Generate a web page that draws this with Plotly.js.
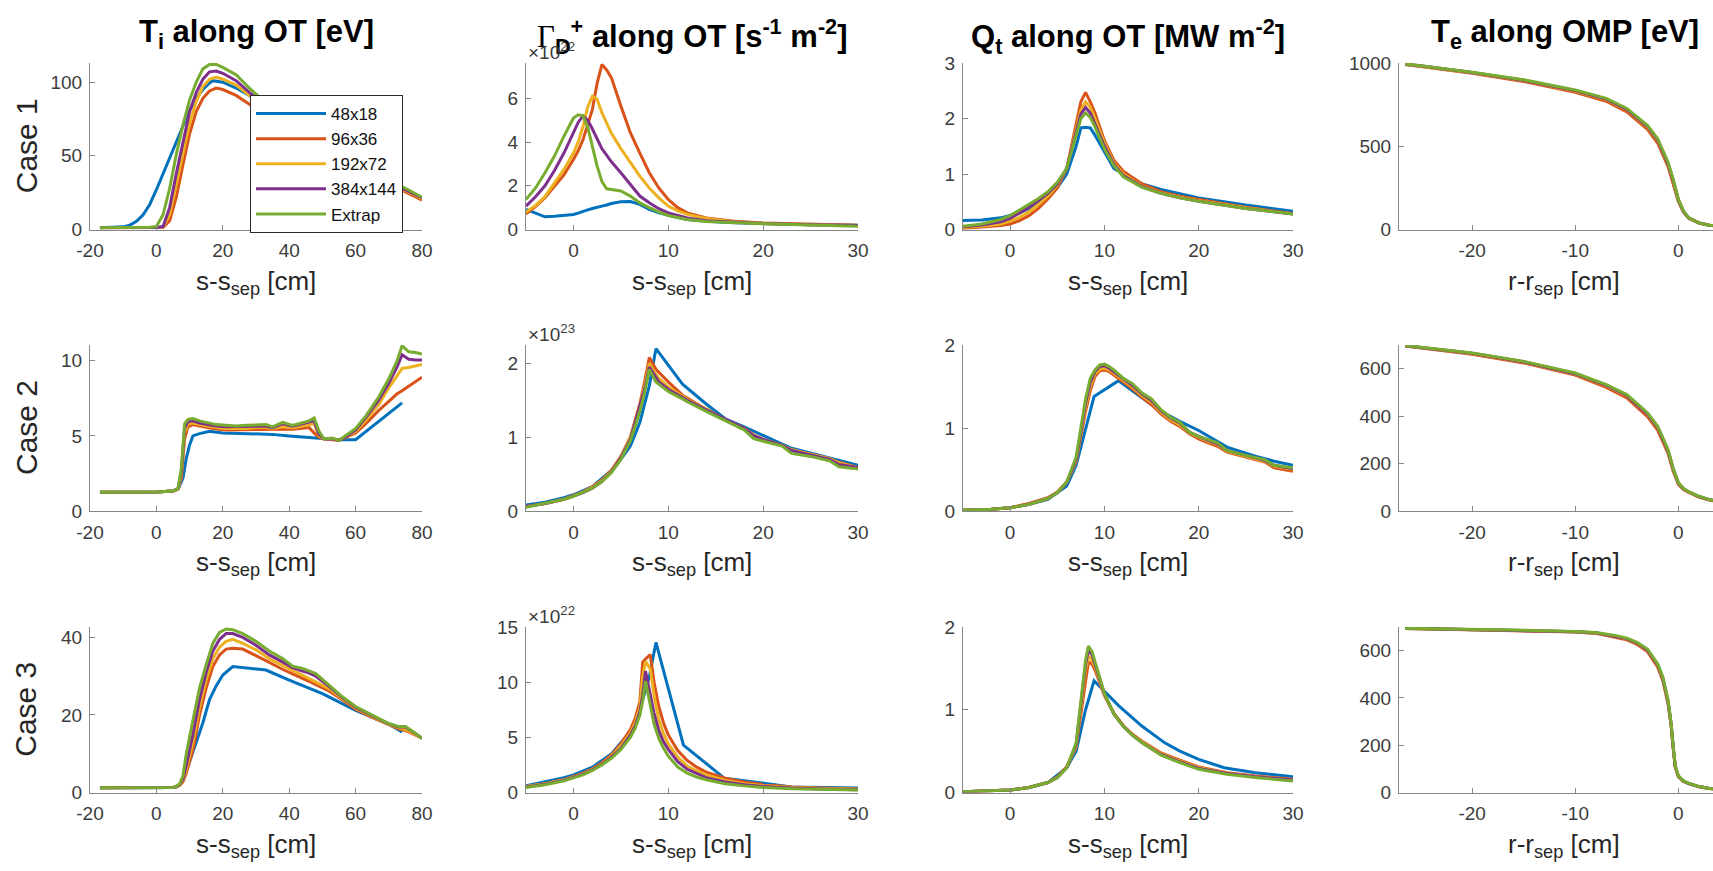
<!DOCTYPE html>
<html><head><meta charset="utf-8">
<script src="https://cdn.plot.ly/plotly-3.0.1.min.js"></script>
<style>html,body{margin:0;padding:0;background:#fff;overflow:hidden}#chart{width:1713px;height:871px}</style>
</head><body><div id="chart"></div>
<script>
// ---------------- series ----------------
const SERIES_NAMES = ['48x18', '96x36', '192x72', '384x144', 'Extrap'];
const SERIES_COLORS = ['#0072BD', '#D95319', '#EDB120', '#7E2F8E', '#77AC30'];

// ---------------- Case 1 : Ti along OT [eV] ----------------
const ti1_s_48 = [-17, -12, -10, -8, -6, -4, -2, 0, 2, 4, 6, 8, 10, 12, 14, 16, 17, 20, 24, 28, 32, 36, 40, 45, 50, 55, 60, 65, 70, 74];
const ti1_48 = [1.2, 1.3, 1.8, 3, 5.5, 10, 17, 27, 38, 49, 60, 71, 81, 89, 95, 99.5, 101, 100, 96, 91, 85, 78, 71, 63, 56, 49, 43, 37, 31, 27];
const ti1_s = [-17, -10, -5, -2, 0, 2, 4, 6, 8, 10, 12, 14, 16, 18, 20, 24, 28, 32, 36, 40, 45, 50, 55, 60, 65, 70, 75, 80];
const ti1_96 = [1.2, 1.2, 1.2, 1.2, 1.2, 1.3, 6, 22, 44, 65, 80, 89, 94, 96, 95, 91, 85, 80, 74, 68, 61, 55, 49, 43, 37, 31, 25.5, 20];
const ti1_192 = [1.2, 1.2, 1.2, 1.2, 1.2, 1.5, 10, 30, 52, 72, 87, 97, 102, 103.5, 102, 98, 91, 84, 77, 70, 63, 56, 50, 44, 38, 32, 26.5, 21];
const ti1_384 = [1.2, 1.2, 1.2, 1.2, 1.3, 2, 15, 38, 60, 80, 93, 102, 107, 107.5, 106, 101, 93, 86, 79, 72, 64, 57, 50, 44, 38, 32, 27, 21.5];
const ti1_ext = [1.2, 1.2, 1.3, 1.5, 2, 10, 28, 51, 71, 88, 100, 109, 112, 112, 110, 105, 96, 88, 80, 73, 65, 58, 51, 45, 39, 33, 28, 22];

// ---------------- Case 2 : Ti ----------------
const ti2_s_48 = [-17, -10, 0, 5, 6.5, 8, 9, 10, 11, 13, 16, 20, 25, 30, 35, 40, 45, 50, 55, 60, 74];
const ti2_48 = [1.25, 1.25, 1.27, 1.33, 1.45, 2.2, 3.5, 4.4, 5.0, 5.15, 5.3, 5.2, 5.15, 5.15, 5.1, 5.0, 4.9, 4.8, 4.75, 4.75, 7.2];
const ti2_s = [-17, -10, 0, 5, 6.5, 7.5, 8.5, 9.5, 11, 13, 15, 18, 21, 24, 27, 30, 33, 35, 38, 41, 44, 46, 47.5, 49, 50.5, 53, 55, 57, 60, 63, 67, 70, 72.5, 74, 76, 78, 80];
const ti2_96 = [1.25, 1.25, 1.27, 1.33, 1.45, 2.2, 4.8, 5.6, 5.75, 5.65, 5.55, 5.45, 5.4, 5.4, 5.4, 5.4, 5.45, 5.4, 5.45, 5.45, 5.5, 5.55, 5.2, 4.9, 4.8, 4.75, 4.7, 4.9, 5.2, 5.8, 6.7, 7.3, 7.8, 8.0, 8.3, 8.6, 8.9];
const ti2_192 = [1.25, 1.25, 1.27, 1.33, 1.45, 2.4, 5.2, 5.8, 5.85, 5.75, 5.65, 5.55, 5.5, 5.5, 5.5, 5.55, 5.55, 5.5, 5.6, 5.55, 5.65, 5.75, 5.8, 5.0, 4.8, 4.8, 4.7, 4.95, 5.3, 6.0, 7.1, 8.2, 9.0, 9.5, 9.55, 9.65, 9.75];
const ti2_384 = [1.25, 1.25, 1.27, 1.33, 1.5, 2.6, 5.5, 5.95, 6.0, 5.85, 5.75, 5.65, 5.6, 5.6, 5.6, 5.65, 5.65, 5.55, 5.8, 5.65, 5.8, 5.9, 6.0, 5.1, 4.8, 4.8, 4.7, 4.95, 5.4, 6.2, 7.4, 8.5, 9.6, 10.4, 10.1, 10.05, 10.05];
const ti2_ext = [1.25, 1.25, 1.27, 1.33, 1.5, 2.8, 5.8, 6.1, 6.15, 6.0, 5.9, 5.75, 5.7, 5.65, 5.7, 5.7, 5.75, 5.6, 5.9, 5.7, 5.9, 6.0, 6.2, 5.3, 4.8, 4.85, 4.7, 5.0, 5.5, 6.3, 7.6, 8.8, 10.0, 11.0, 10.6, 10.55, 10.45];

// ---------------- Case 3 : Ti ----------------
const ti3_s_48 = [-17, -10, 0, 5, 6, 8, 10, 12, 14, 16, 18, 20, 23, 33, 40, 50, 60, 70, 74];
const ti3_48 = [1.2, 1.2, 1.25, 1.3, 1.4, 3, 8, 13, 18, 24, 27.5, 30.3, 32.5, 31.6, 29, 25.5, 21.2, 17.6, 15.6];
const ti3_s = [-17, -10, 0, 5, 6, 7, 8, 9, 11, 13, 15, 17, 19, 21, 23, 26, 30, 34, 38, 41, 44, 46, 48, 52, 56, 60, 65, 70, 73, 75, 78, 80];
const ti3_96 = [1.2, 1.2, 1.25, 1.3, 1.5, 1.8, 2.8, 5, 11, 20, 27, 32.5, 35.5, 37, 37.2, 37, 35.3, 33.5, 31.8, 30.6, 29.5, 28.7, 27.8, 26.2, 23.9, 21.5, 19.4, 17.4, 16.4, 16.0, 14.8, 14];
const ti3_192 = [1.2, 1.2, 1.25, 1.3, 1.5, 1.9, 3.2, 6, 13, 22, 29, 34.5, 37.5, 39, 39.5, 38.5, 36.8, 34.5, 32.8, 31.5, 30.2, 29.5, 28.6, 26.8, 24.2, 21.8, 19.6, 17.6, 16.7, 16.3, 15, 14];
const ti3_384 = [1.2, 1.2, 1.25, 1.3, 1.5, 2.0, 3.5, 7, 15, 24, 31, 36.5, 39.5, 41, 41, 40, 38, 35.5, 33.7, 32.2, 31.3, 30.8, 30, 27.4, 24.5, 22, 19.8, 17.7, 16.9, 16.9, 15.2, 14];
const ti3_ext = [1.2, 1.2, 1.25, 1.3, 1.6, 2.2, 4.3, 10, 18.6, 27, 33, 38.5, 41.3, 42.2, 42, 41, 39, 36.5, 34.6, 32.6, 32, 31.4, 30.7, 27.7, 24.7, 22.2, 19.9, 17.8, 17.0, 17.0, 15.3, 14.0];

// ---------------- Case 1 : Gamma_D+ along OT [x1e22 s^-1 m^-2] ----------------
const g1_s = [-5, -4, -3, -2, -1, 0, 0.5, 1, 1.5, 2, 2.5, 3, 3.5, 4, 5, 6, 7, 8, 9, 10, 11, 12, 14, 17, 20, 25, 30];
const g1_48 = [0.92, 0.76, 0.58, 0.61, 0.64, 0.69, 0.75, 0.84, 0.9, 0.96, 1.0, 1.07, 1.12, 1.19, 1.27, 1.28, 1.15, 0.92, 0.76, 0.64, 0.55, 0.46, 0.38, 0.31, 0.27, 0.22, 0.2];
const g1_96 = [0.72, 1.05, 1.45, 1.95, 2.5, 3.2, 3.6, 4.1, 4.8, 5.5, 6.7, 7.55, 7.3, 6.95, 5.65, 4.43, 3.5, 2.6, 1.9, 1.37, 1.0, 0.76, 0.53, 0.38, 0.3, 0.25, 0.2];
const g1_192 = [0.8, 1.1, 1.5, 2.1, 2.75, 3.5, 4.0, 4.7, 5.6, 6.1, 5.95, 5.35, 4.85, 4.4, 3.7, 3.05, 2.44, 1.9, 1.45, 1.07, 0.85, 0.69, 0.5, 0.36, 0.28, 0.22, 0.18];
const g1_384 = [1.07, 1.5, 2.0, 2.7, 3.5, 4.43, 4.9, 5.2, 5.0, 4.6, 4.15, 3.7, 3.4, 3.1, 2.6, 2.06, 1.53, 1.22, 0.95, 0.76, 0.63, 0.53, 0.4, 0.32, 0.27, 0.22, 0.18];
const g1_ext = [1.37, 1.9, 2.6, 3.36, 4.27, 5.1, 5.25, 5.2, 4.7, 3.8, 2.9, 2.2, 1.86, 1.83, 1.76, 1.53, 1.22, 1.0, 0.8, 0.64, 0.54, 0.46, 0.37, 0.3, 0.26, 0.21, 0.15];

// ---------------- Case 2 : Gamma_D+ [x1e23] ----------------
const g2_s_48 = [-5, -3, -1, 0, 2, 4, 5, 6, 7, 8, 8.7, 10, 11.5, 14, 16, 18, 20, 23, 27, 30];
const g2_48 = [0.08, 0.12, 0.18, 0.22, 0.33, 0.55, 0.7, 0.88, 1.2, 1.7, 2.2, 1.98, 1.72, 1.45, 1.25, 1.14, 1.02, 0.85, 0.72, 0.62];
const g2_s = [-5, -3, -1, 0, 1, 2, 3, 4, 5, 6, 7, 7.5, 8, 8.7, 9, 10, 11.5, 12, 14, 16, 18, 19, 20, 22, 23, 25, 27, 28, 30];
const g2_96 = [0.06, 0.1, 0.16, 0.21, 0.26, 0.33, 0.42, 0.55, 0.74, 1.0, 1.45, 1.75, 2.08, 1.92, 1.88, 1.75, 1.57, 1.53, 1.38, 1.24, 1.12, 1.03, 0.97, 0.89, 0.83, 0.77, 0.71, 0.66, 0.59];
const g2_192 = [0.06, 0.1, 0.16, 0.2, 0.25, 0.32, 0.41, 0.54, 0.73, 0.99, 1.42, 1.7, 2.0, 1.85, 1.8, 1.68, 1.55, 1.51, 1.38, 1.24, 1.12, 1.03, 0.97, 0.89, 0.83, 0.77, 0.71, 0.65, 0.59];
const g2_384 = [0.06, 0.1, 0.16, 0.2, 0.25, 0.31, 0.4, 0.53, 0.72, 0.97, 1.4, 1.65, 1.95, 1.8, 1.75, 1.65, 1.54, 1.5, 1.37, 1.24, 1.12, 1.02, 0.97, 0.89, 0.82, 0.76, 0.7, 0.63, 0.59];
const g2_ext = [0.05, 0.1, 0.16, 0.2, 0.25, 0.31, 0.4, 0.52, 0.7, 0.95, 1.35, 1.6, 1.92, 1.75, 1.72, 1.62, 1.52, 1.48, 1.35, 1.22, 1.1, 0.98, 0.95, 0.88, 0.78, 0.74, 0.68, 0.6, 0.57];

// ---------------- Case 3 : Gamma_D+ [x1e22] ----------------
const g3_s_48 = [-5, -3, -1, 0, 2, 4, 6, 7, 8, 8.7, 11.6, 15.9, 20, 23, 30];
const g3_48 = [0.6, 0.95, 1.35, 1.6, 2.3, 3.5, 5.5, 7.5, 10.5, 13.6, 4.3, 1.3, 0.85, 0.5, 0.4];
const g3_s = [-5, -3, -1, 0, 1, 2, 3, 4, 5, 6, 6.5, 7, 7.3, 7.6, 8.1, 8.5, 9, 9.5, 10, 11, 12, 13, 14, 16, 18, 20, 23, 26, 30];
const g3_96 = [0.55, 0.8, 1.15, 1.45, 1.75, 2.15, 2.7, 3.4, 4.4, 5.7, 6.7, 8.2, 11.8, 12.1, 12.5, 10.0, 7.8, 6.3, 5.2, 3.8, 2.9, 2.3, 1.85, 1.3, 0.95, 0.72, 0.5, 0.4, 0.32];
const g3_192 = [0.55, 0.8, 1.15, 1.4, 1.7, 2.1, 2.6, 3.3, 4.2, 5.4, 6.3, 7.7, 10.5, 11.9, 11.2, 8.8, 6.6, 5.3, 4.4, 3.2, 2.4, 1.95, 1.6, 1.1, 0.8, 0.62, 0.45, 0.36, 0.29];
const g3_384 = [0.5, 0.75, 1.1, 1.35, 1.65, 2.05, 2.55, 3.2, 4.0, 5.2, 6.0, 7.3, 8.8, 11.0, 9.0, 7.2, 5.6, 4.6, 3.9, 2.8, 2.1, 1.7, 1.35, 0.95, 0.7, 0.55, 0.4, 0.32, 0.26];
const g3_ext = [0.45, 0.7, 1.05, 1.3, 1.6, 2.0, 2.5, 3.1, 3.9, 5.0, 5.8, 7.0, 8.3, 10.1, 8.0, 6.2, 4.9, 4.0, 3.3, 2.3, 1.75, 1.4, 1.15, 0.8, 0.6, 0.46, 0.35, 0.28, 0.22];

// ---------------- Case 1 : Qt along OT [MW m^-2] ----------------
const q1_s = [-5, -3, -1, 0, 1, 2, 3, 4, 5, 6, 7, 7.5, 8, 8.5, 9, 10, 11, 12, 14, 16, 18, 20, 25, 30];
const q1_48 = [0.16, 0.17, 0.21, 0.25, 0.3, 0.38, 0.47, 0.58, 0.75, 1.0, 1.5, 1.83, 1.84, 1.83, 1.7, 1.4, 1.1, 1.0, 0.82, 0.72, 0.64, 0.57, 0.44, 0.33];
const q1_96 = [0.02, 0.04, 0.07, 0.1, 0.16, 0.25, 0.38, 0.55, 0.75, 1.1, 1.9, 2.3, 2.47, 2.3, 2.1, 1.6, 1.25, 1.05, 0.82, 0.68, 0.6, 0.54, 0.4, 0.29];
const q1_192 = [0.04, 0.06, 0.1, 0.15, 0.22, 0.32, 0.45, 0.6, 0.8, 1.1, 1.8, 2.15, 2.3, 2.2, 2.0, 1.55, 1.2, 1.0, 0.78, 0.66, 0.58, 0.52, 0.39, 0.28];
const q1_384 = [0.05, 0.08, 0.14, 0.2, 0.3, 0.4, 0.52, 0.65, 0.82, 1.1, 1.75, 2.08, 2.2, 2.1, 1.9, 1.5, 1.17, 0.97, 0.77, 0.65, 0.57, 0.51, 0.38, 0.28];
const q1_ext = [0.06, 0.1, 0.18, 0.25, 0.35, 0.45, 0.56, 0.68, 0.85, 1.1, 1.7, 2.0, 2.1, 2.02, 1.85, 1.45, 1.15, 0.95, 0.76, 0.65, 0.57, 0.51, 0.38, 0.28];

// ---------------- Case 2 : Qt ----------------
const q2_s_48 = [-5, -2, 0, 2, 4, 6, 7, 8, 8.9, 11.5, 14, 16, 18, 20, 23, 26, 28, 30];
const q2_48 = [0.01, 0.02, 0.04, 0.08, 0.14, 0.3, 0.55, 1.0, 1.38, 1.57, 1.36, 1.2, 1.08, 0.97, 0.77, 0.66, 0.6, 0.55];
const q2_s = [-5, -2, 0, 2, 4, 5, 6, 7, 7.5, 8, 8.5, 9, 9.5, 10, 10.5, 11, 12, 13, 14, 15, 16, 17, 18, 19, 20, 21, 22, 23, 25, 27, 28, 30];
const q2_96 = [0.01, 0.02, 0.04, 0.09, 0.16, 0.23, 0.35, 0.6, 0.9, 1.2, 1.45, 1.62, 1.69, 1.7, 1.68, 1.64, 1.55, 1.47, 1.37, 1.28, 1.17, 1.08, 1.02, 0.93, 0.87, 0.82, 0.78, 0.71, 0.65, 0.59, 0.52, 0.48];
const q2_192 = [0.01, 0.02, 0.04, 0.08, 0.15, 0.22, 0.34, 0.6, 0.92, 1.25, 1.5, 1.65, 1.71, 1.72, 1.7, 1.66, 1.57, 1.49, 1.39, 1.31, 1.19, 1.1, 1.04, 0.94, 0.89, 0.84, 0.8, 0.72, 0.66, 0.6, 0.54, 0.5];
const q2_384 = [0.01, 0.02, 0.04, 0.08, 0.15, 0.22, 0.34, 0.62, 0.95, 1.3, 1.55, 1.68, 1.74, 1.75, 1.72, 1.68, 1.59, 1.51, 1.41, 1.33, 1.21, 1.12, 1.06, 0.95, 0.9, 0.85, 0.81, 0.73, 0.67, 0.61, 0.55, 0.51];
const q2_ext = [0.01, 0.02, 0.04, 0.08, 0.15, 0.22, 0.35, 0.65, 1.0, 1.35, 1.6, 1.7, 1.76, 1.77, 1.74, 1.7, 1.6, 1.53, 1.42, 1.35, 1.22, 1.13, 1.07, 0.95, 0.9, 0.86, 0.82, 0.73, 0.67, 0.62, 0.55, 0.52];

// ---------------- Case 3 : Qt ----------------
const q3_s_48 = [-5, -2, 0, 2, 4, 6, 7, 8, 8.9, 11.5, 14, 16.4, 18, 20, 22.7, 26, 30];
const q3_48 = [0.01, 0.02, 0.03, 0.06, 0.12, 0.3, 0.5, 1.0, 1.35, 1.05, 0.8, 0.6, 0.5, 0.4, 0.3, 0.24, 0.19];
const q3_s = [-5, -2, 0, 2, 4, 5, 6, 7, 7.5, 8, 8.3, 8.7, 9, 9.5, 10, 11, 12, 13, 14, 16, 18, 20, 23, 26, 30];
const q3_96 = [0.01, 0.02, 0.03, 0.06, 0.12, 0.19, 0.31, 0.55, 0.95, 1.4, 1.58, 1.55, 1.48, 1.33, 1.17, 0.96, 0.81, 0.7, 0.62, 0.48, 0.39, 0.31, 0.24, 0.2, 0.16];
const q3_192 = [0.01, 0.02, 0.03, 0.06, 0.12, 0.18, 0.3, 0.56, 1.0, 1.48, 1.65, 1.6, 1.52, 1.35, 1.18, 0.95, 0.8, 0.69, 0.61, 0.47, 0.38, 0.3, 0.23, 0.19, 0.15];
const q3_384 = [0.01, 0.02, 0.03, 0.06, 0.12, 0.18, 0.3, 0.58, 1.05, 1.55, 1.72, 1.66, 1.55, 1.36, 1.19, 0.95, 0.8, 0.69, 0.6, 0.46, 0.37, 0.29, 0.23, 0.19, 0.15];
const q3_ext = [0.01, 0.02, 0.03, 0.06, 0.12, 0.18, 0.3, 0.6, 1.1, 1.6, 1.77, 1.7, 1.58, 1.38, 1.2, 0.95, 0.8, 0.69, 0.6, 0.45, 0.36, 0.28, 0.22, 0.18, 0.14];

// ---------------- Te along OMP [eV] ----------------
const te1_r = [-26.5, -25, -20, -15, -10, -7, -5, -3, -2, -1, -0.5, 0, 0.5, 1, 2, 3, 4, 5];
const te1_48 = [992, 981, 941, 893, 830, 778, 715, 612, 530, 389, 289, 174, 107, 69, 39, 26, 20, 16];
const te1_96 = [991, 979, 938, 889, 824, 770, 706, 601, 518, 378, 280, 168, 104, 68, 39, 25, 19, 15];
const te1_192 = [993, 982, 942, 895, 832, 780, 718, 615, 533, 392, 292, 176, 108, 70, 40, 26, 20, 16];
const te1_384 = [993, 983, 943, 896, 834, 783, 721, 619, 537, 396, 296, 178, 109, 70, 40, 26, 20, 16];
const te1_ext = [994, 984, 945, 899, 838, 788, 727, 626, 545, 404, 303, 182, 111, 71, 40, 26, 20, 16];

const te2_r = [-26.5, -25, -20, -15, -10, -7, -5, -3, -2, -1, -0.5, 0, 0.5, 1, 2, 3, 4, 5];
const te2_48 = [697, 689, 663, 627, 577, 527, 484, 405, 348, 250, 174, 116, 92, 80, 60, 47, 38, 32];
const te2_96 = [696, 688, 661, 624, 573, 521, 477, 398, 340, 243, 168, 112, 90, 78, 59, 46, 37, 31];
const te2_192 = [697, 690, 664, 628, 578, 528, 485, 407, 350, 252, 175, 117, 93, 80, 61, 47, 38, 32];
const te2_384 = [697, 690, 665, 629, 579, 530, 487, 409, 352, 254, 177, 118, 94, 81, 61, 48, 38, 32];
const te2_ext = [698, 691, 666, 631, 582, 533, 491, 414, 357, 259, 180, 120, 95, 82, 62, 48, 38, 32];

const te3_r = [-26.5, -20, -15, -10, -8, -6, -5, -4, -3, -2, -1.5, -1, -0.7, -0.5, -0.3, 0, 0.5, 1, 2, 3, 4, 5];
const te3_48 = [694, 690, 685, 680, 675, 660, 649, 630, 601, 537, 480, 383, 286, 190, 109, 68, 48, 38, 25, 17, 12, 9];
const te3_96 = [694, 689, 684, 679, 673, 657, 646, 626, 596, 530, 472, 375, 280, 186, 107, 67, 47, 38, 24, 17, 12, 9];
const te3_192 = [694, 690, 685, 680, 675, 660, 650, 631, 602, 538, 481, 384, 287, 191, 110, 69, 48, 38, 25, 17, 12, 9];
const te3_384 = [695, 690, 685, 680, 676, 661, 651, 632, 603, 540, 483, 386, 289, 192, 110, 69, 48, 38, 25, 17, 12, 9];
const te3_ext = [695, 691, 686, 681, 677, 663, 653, 635, 607, 544, 488, 391, 293, 195, 112, 70, 49, 39, 25, 17, 12, 9];

// ---------------- tick labels ----------------
const TICKS_S_WIDE = [-20, 0, 20, 40, 60, 80];
const TICKS_S_NARROW = [0, 10, 20, 30];
const TICKS_R = [-20, -10, 0];
const TICKS_TI1 = [0, 50, 100], TICKS_TI2 = [0, 5, 10], TICKS_TI3 = [0, 20, 40];
const TICKS_G1 = [0, 2, 4, 6], TICKS_G2 = [0, 1, 2], TICKS_G3 = [0, 5, 10, 15];
const TICKS_Q1 = [0, 1, 2, 3], TICKS_Q2 = [0, 1, 2], TICKS_Q3 = [0, 1, 2];
const TICKS_TE1 = [0, 500, 1000], TICKS_TE2 = [0, 200, 400, 600], TICKS_TE3 = [0, 200, 400, 600];

const COLUMN_TITLES = [
  '<b>T<sub>i</sub> along OT [eV]</b>',
  '<b><span style="font-family:\'Liberation Serif\';font-weight:normal">Γ</span><sub>D</sub><sup>+</sup> along OT [s<sup>-1</sup> m<sup>-2</sup>]</b>',
  '<b>Q<sub>t</sub> along OT [MW m<sup>-2</sup>]</b>',
  '<b>T<sub>e</sub> along OMP [eV]</b>'
];
const ROW_LABELS = ['Case 1', 'Case 2', 'Case 3'];
const X_TITLES = ['s-s<sub>sep</sub> [cm]', 's-s<sub>sep</sub> [cm]', 's-s<sub>sep</sub> [cm]', 'r-r<sub>sep</sub> [cm]'];
const EXPONENTS = ['22', '23', '22'];

// ---------------- panel wiring ----------------
const PANELS = [
  {r:0,c:0, xs:[ti1_s_48, ti1_s, ti1_s, ti1_s, ti1_s], ys:[ti1_48, ti1_96, ti1_192, ti1_384, ti1_ext], xr:[-20,80], yr:[0,113], xt:TICKS_S_WIDE, yt:TICKS_TI1},
  {r:0,c:1, xs:[g1_s, g1_s, g1_s, g1_s, g1_s], ys:[g1_48, g1_96, g1_192, g1_384, g1_ext], xr:[-5,30], yr:[0,7.62], xt:TICKS_S_NARROW, yt:TICKS_G1},
  {r:0,c:2, xs:[q1_s, q1_s, q1_s, q1_s, q1_s], ys:[q1_48, q1_96, q1_192, q1_384, q1_ext], xr:[-5,30], yr:[0,3], xt:TICKS_S_NARROW, yt:TICKS_Q1},
  {r:0,c:3, xs:[te1_r, te1_r, te1_r, te1_r, te1_r], ys:[te1_48, te1_96, te1_192, te1_384, te1_ext], xr:[-27.1,3.36], yr:[0,1000], xt:TICKS_R, yt:TICKS_TE1},
  {r:1,c:0, xs:[ti2_s_48, ti2_s, ti2_s, ti2_s, ti2_s], ys:[ti2_48, ti2_96, ti2_192, ti2_384, ti2_ext], xr:[-20,80], yr:[0,11.05], xt:TICKS_S_WIDE, yt:TICKS_TI2},
  {r:1,c:1, xs:[g2_s_48, g2_s, g2_s, g2_s, g2_s], ys:[g2_48, g2_96, g2_192, g2_384, g2_ext], xr:[-5,30], yr:[0,2.25], xt:TICKS_S_NARROW, yt:TICKS_G2},
  {r:1,c:2, xs:[q2_s_48, q2_s, q2_s, q2_s, q2_s], ys:[q2_48, q2_96, q2_192, q2_384, q2_ext], xr:[-5,30], yr:[0,2], xt:TICKS_S_NARROW, yt:TICKS_Q2},
  {r:1,c:3, xs:[te2_r, te2_r, te2_r, te2_r, te2_r], ys:[te2_48, te2_96, te2_192, te2_384, te2_ext], xr:[-27.1,3.36], yr:[0,700], xt:TICKS_R, yt:TICKS_TE2},
  {r:2,c:0, xs:[ti3_s_48, ti3_s, ti3_s, ti3_s, ti3_s], ys:[ti3_48, ti3_96, ti3_192, ti3_384, ti3_ext], xr:[-20,80], yr:[0,42.7], xt:TICKS_S_WIDE, yt:TICKS_TI3},
  {r:2,c:1, xs:[g3_s_48, g3_s, g3_s, g3_s, g3_s], ys:[g3_48, g3_96, g3_192, g3_384, g3_ext], xr:[-5,30], yr:[0,15], xt:TICKS_S_NARROW, yt:TICKS_G3},
  {r:2,c:2, xs:[q3_s_48, q3_s, q3_s, q3_s, q3_s], ys:[q3_48, q3_96, q3_192, q3_384, q3_ext], xr:[-5,30], yr:[0,2], xt:TICKS_S_NARROW, yt:TICKS_Q3},
  {r:2,c:3, xs:[te3_r, te3_r, te3_r, te3_r, te3_r], ys:[te3_48, te3_96, te3_192, te3_384, te3_ext], xr:[-27.1,3.36], yr:[0,700], xt:TICKS_R, yt:TICKS_TE3}
];

// ---------------- layout geometry (pixels) ----------------
const W = 1713, H = 871;
const COL_PX = [[90, 422], [526, 858], [963, 1293], [1399, 1713]];
const ROW_PX = [[63, 229.5], [345, 511], [627, 792.5]];
const px = v => v / W;
const py = v => 1 - v / H;
const FONT = 'Liberation Sans, Arial, Helvetica, sans-serif';
const AXIS_GRAY = '#868686';
const TICK_TXT = '#3c3c3c';

const traces = [];
const layout = {
  width: W, height: H, autosize: false,
  margin: {l: 0, r: 0, t: 0, b: 0, pad: 0},
  paper_bgcolor: '#ffffff', plot_bgcolor: '#ffffff',
  font: {family: FONT, color: '#262626'},
  showlegend: true,
  legend: {
    x: px(250), y: py(95), xanchor: 'left', yanchor: 'top',
    bgcolor: '#ffffff', bordercolor: '#2b2b2b', borderwidth: 1,
    font: {family: FONT, size: 17, color: '#111'},
    itemwidth: 70, tracegroupgap: 0
  },
  annotations: []
};

PANELS.forEach((p, i) => {
  const k = i + 1;
  const sfx = k === 1 ? '' : String(k);
  const xa = 'x' + sfx, ya = 'y' + sfx;
  for (let s = 0; s < 5; s++) {
    traces.push({
      type: 'scatter', mode: 'lines',
      x: p.xs[s], y: p.ys[s],
      xaxis: xa, yaxis: ya,
      name: SERIES_NAMES[s],
      showlegend: i === 0,
      line: {color: SERIES_COLORS[s], width: 3},
      hoverinfo: 'skip'
    });
  }
  const common = {
    showline: true, linecolor: AXIS_GRAY, linewidth: 1,
    ticks: 'inside', ticklen: 5, tickwidth: 1, tickcolor: AXIS_GRAY,
    showgrid: false, zeroline: false, fixedrange: true,
    tickfont: {family: FONT, size: 19, color: TICK_TXT},
    tickmode: 'array'
  };
  layout['xaxis' + sfx] = Object.assign({}, common, {
    domain: [px(COL_PX[p.c][0]), px(COL_PX[p.c][1])],
    anchor: ya, range: p.xr,
    tickvals: p.xt, ticktext: p.xt.map(String),
    ticklabelstandoff: 4
  });
  layout['yaxis' + sfx] = Object.assign({}, common, {
    domain: [py(ROW_PX[p.r][1]), py(ROW_PX[p.r][0])],
    anchor: xa, range: p.yr,
    tickvals: p.yt, ticktext: p.yt.map(String),
    ticklabelstandoff: 3
  });
});

// column titles
const TITLE_CX = [256, 692, 1128, 1565];
COLUMN_TITLES.forEach((t, c) => {
  layout.annotations.push({
    text: t, xref: 'paper', yref: 'paper', x: px(TITLE_CX[c]), y: py(12),
    xanchor: 'center', yanchor: 'top', showarrow: false,
    font: {family: FONT, size: 31, color: '#000'}
  });
});
// row labels
ROW_LABELS.forEach((t, r) => {
  layout.annotations.push({
    text: t, xref: 'paper', yref: 'paper', x: px(26), y: py((ROW_PX[r][0] + ROW_PX[r][1]) / 2),
    xanchor: 'center', yanchor: 'middle', textangle: -90, showarrow: false,
    font: {family: FONT, size: 30, color: '#262626'}
  });
});
// x-axis titles
const XT_CX = [256, 692, 1128, 1564];
for (let r = 0; r < 3; r++) {
  for (let c = 0; c < 4; c++) {
    layout.annotations.push({
      text: X_TITLES[c], xref: 'paper', yref: 'paper',
      x: px(XT_CX[c]), y: py(ROW_PX[r][1] + 34),
      xanchor: 'center', yanchor: 'top', showarrow: false,
      font: {family: FONT, size: 26, color: '#262626'}
    });
  }
}
// exponent multipliers on Gamma column
EXPONENTS.forEach((e, r) => {
  layout.annotations.push({
    text: '×10<sup>' + e + '</sup>', xref: 'paper', yref: 'paper',
    x: px(526), y: py(ROW_PX[r][0] - 12),
    xanchor: 'left', yanchor: 'middle', showarrow: false,
    font: {family: FONT, size: 19, color: TICK_TXT}
  });
});

Plotly.newPlot('chart', traces, layout, {displayModeBar: false, staticPlot: true});
</script></body></html>
